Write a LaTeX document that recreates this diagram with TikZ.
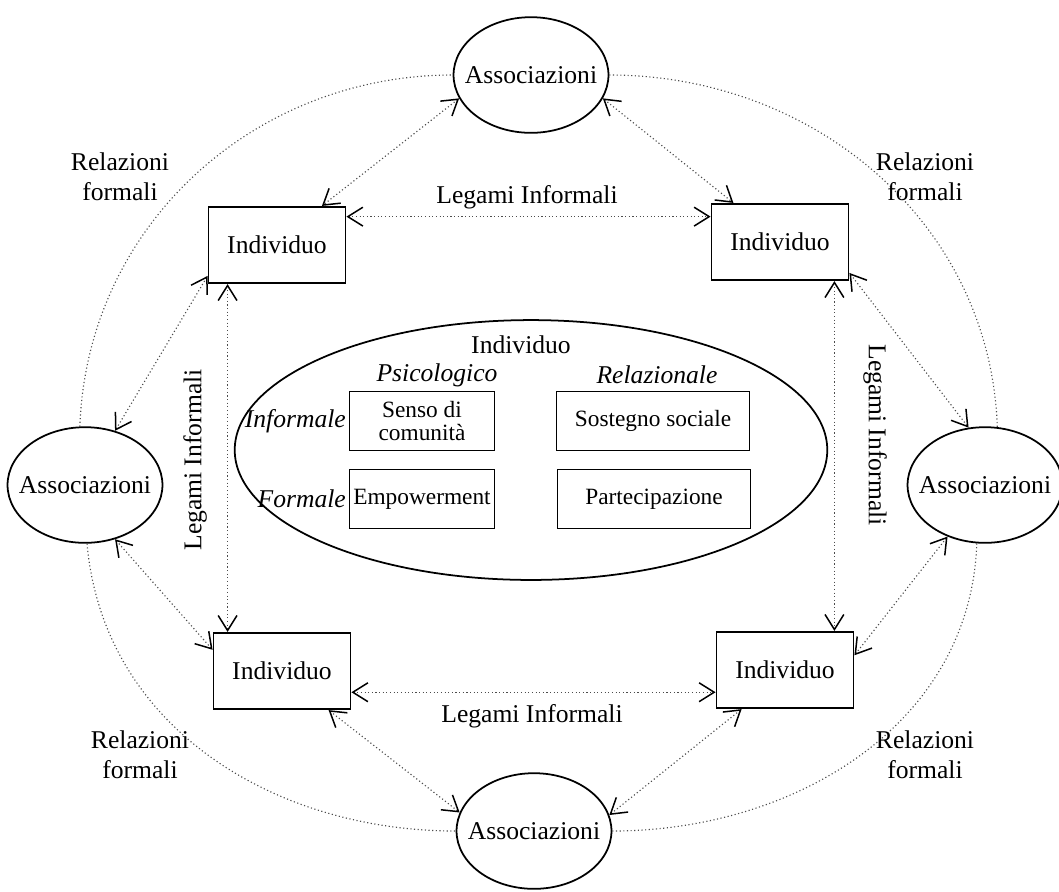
\documentclass[tikz,border=0pt]{standalone}
\usepackage{fontspec}
\setmainfont{Liberation Serif}
\usetikzlibrary{arrows.meta,shapes.geometric}

\begin{document}
\begin{tikzpicture}[
  x=0.014cm, y=-0.014cm,
  font=\fontsize{10.2}{12}\selectfont,
  assoc/.style={draw, ellipse, line width=0.7pt, inner sep=0pt,
                minimum width=2.17cm, minimum height=1.62cm},
  box/.style={draw, line width=0.7pt, minimum width=1.92cm, minimum height=1.07cm},
  cbox/.style={draw, line width=0.6pt, minimum height=0.83cm, align=center,
               inner sep=1pt, font=\fontsize{9.3}{10.8}\selectfont},
  cat/.style={font=\fontsize{10.2}{12}\selectfont\itshape},
  lbl/.style={align=center},
  link/.style={draw=gray!60!black, densely dotted, line width=0.45pt,
               {Straight Barb[length=6pt,width=7.5pt,line width=0.6pt,color=black]}-%
               {Straight Barb[length=6pt,width=7.5pt,line width=0.6pt,color=black]}},
  outer/.style={draw=gray!60!black, densely dotted, line width=0.45pt}
]
\useasboundingbox (0,0) rectangle (1059,891);

% associazioni
\node[assoc] (assocT) at (531,75)  {\makebox[0pt]{Associazioni}};
\node[assoc] (assocL) at (85,485)  {\makebox[0pt]{Associazioni}};
\node[assoc] (assocR) at (985,485) {\makebox[0pt]{Associazioni}};
\node[assoc] (assocB) at (534,831) {\makebox[0pt]{Associazioni}};

% individui
\node[box] (indTL) at (277,245) {Individuo};
\node[box] (indTR) at (780,242) {Individuo};
\node[box] (indBL) at (282,671) {Individuo};
\node[box] (indBR) at (785,670) {Individuo};

% individuo al centro
\node[draw, ellipse, line width=0.7pt, minimum width=8.3cm, minimum height=3.64cm]
  (core) at (531,450) {};
\node (coreT) at (521,345) {Individuo};
\node[cat] (psi) at (437,375) {Psicologico};
\node[cat] (rel) at (657,375) {Relazionale};
\node[cbox, minimum width=2.03cm] (senso) at (422,421) {Senso di\\[-2pt]comunità};
\node[cbox, minimum width=2.7cm]  (sost)  at (653,421) {Sostegno sociale};
\node[cbox, minimum width=2.03cm] (emp)   at (422,499) {Empowerment};
\node[cbox, minimum width=2.7cm]  (part)  at (654,499) {Partecipazione};
\node[cat, anchor=east, inner sep=1pt] (inf)  at (senso.west) {Informale};
\node[cat, anchor=east, inner sep=1pt] (form) at (emp.west) {Formale};

% relazioni formali
\draw[outer] (assocL.95) to[out=88, in=180] (assocT.west);
\draw[outer] (assocT.east) to[out=0, in=92] (assocR.78);
\draw[outer] (assocL.272) to[out=-85, in=180] (assocB.west);
\draw[outer] (assocB.east) to[out=0, in=-92] (assocR.262);

\node[lbl] (rfTL) at (120,177) {Relazioni\\formali};
\node[lbl] (rfTR) at (925,177) {Relazioni\\formali};
\node[lbl] (rfBL) at (140,755) {Relazioni\\formali};
\node[lbl] (rfBR) at (925,755) {Relazioni\\formali};

% legami tra associazioni e individui
\draw[link] (assocT.198) -- (indTL.41);
\draw[link] (assocT.342) -- (indTR.140);
\draw[link] (indTL.204)  -- (assocL.61);
\draw[link] (assocL.299) -- (indBL.163);
\draw[link] (indTR.336)  -- (assocR.106);
\draw[link] (assocR.234) -- (indBR.12);
\draw[link] (indBL.320)  -- (assocB.166);
\draw[link] (indBR.222)  -- (assocB.12);

% legami informali
\draw[link] ([yshift=-0.15cm]indTL.north east) -- ([yshift=-0.15cm]indTL.north east -| indTR.west);
\draw[link] ([yshift=0.25cm]indBL.south east) -- ([yshift=0.25cm]indBL.south east -| indBR.west);
\draw[link] ([xshift=0.28cm]indTL.south west) -- ([xshift=0.28cm]indTL.south west |- indBL.north);
\draw[link] ([xshift=-0.21cm]indTR.south east) -- ([xshift=-0.21cm]indTR.south east |- indBR.north);

\node (liT) at (527,197) {Legami Informali};
\node (liB) at (532,716) {Legami Informali};
\node[rotate=90]  (liL) at (195,460) {Legami Informali};
\node[rotate=-90] (liR) at (875,435) {Legami Informali};
\end{tikzpicture}
\end{document}
